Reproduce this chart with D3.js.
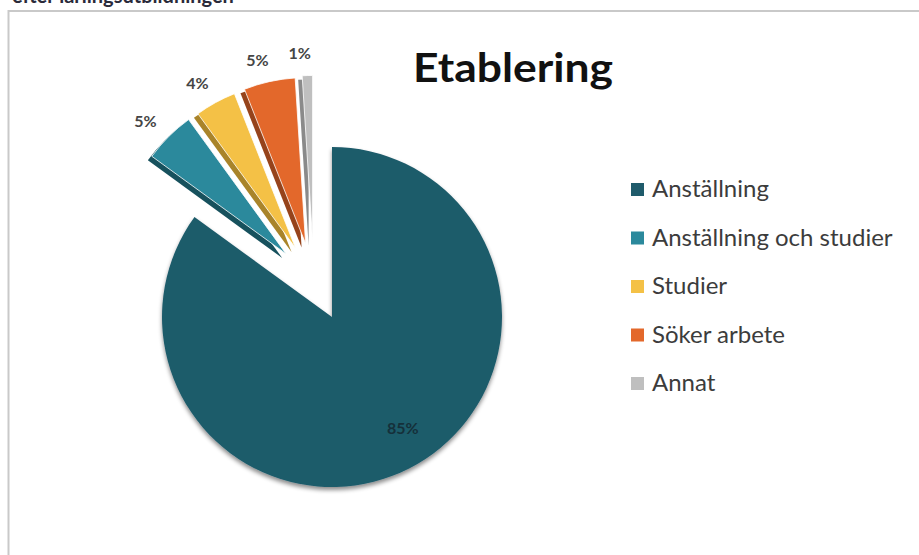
<!DOCTYPE html>
<html>
<head>
<meta charset="utf-8">
<script src="https://cdn.jsdelivr.net/npm/d3@7/dist/d3.min.js"></script>
<style>
  html, body { margin: 0; padding: 0; background: #ffffff; }
  svg { display: block; }
</style>
</head>
<body>
<svg id="chart" width="919" height="555"></svg>
<script>
// ---- data ----
const categories = ["Anställning", "Anställning och studier", "Studier", "Söker arbete", "Annat"];
const values = [85, 5, 4, 5, 1];
const valueLabels = ["85%", "5%", "4%", "5%", "1%"];
const colors = ["#1f5b6b", "#2b899c", "#f4c146", "#e3682b", "#bfbfbf"];
const sideColors = ["#123c47", "#17515d", "#a9842a", "#96431b", "#8a8a8a"];
const exploded = [false, true, true, true, true];
const title = "Etablering";
const caption = "efter lärlingsutbildningen";

// ---- layout ----
const svg = d3.select("#chart");
const W = 919, H = 555;
const cx = 332, cy = 317, R = 170, Rx = 166;
const explodeDist = 78;

// frame
svg.append("line").attr("x1", 8.5).attr("x2", 8.5).attr("y1", 10).attr("y2", H)
  .attr("stroke", "#c9c9c9").attr("stroke-width", 2);
svg.append("line").attr("x1", 8).attr("x2", W).attr("y1", 11).attr("y2", 11)
  .attr("stroke", "#c9c9c9").attr("stroke-width", 2);

// cut-off caption at the top (as in the reference)
svg.append("text").attr("x", 12).attr("y", 3)
  .attr("font-family", "Lato, 'Open Sans', sans-serif").attr("font-weight", "bold")
  .attr("font-size", 20).attr("fill", "#2a2a3a").text(caption);

const defs = svg.append("defs");
const f = defs.append("filter").attr("id", "shadow").attr("x", "-20%").attr("y", "-20%")
  .attr("width", "140%").attr("height", "140%");
f.append("feDropShadow").attr("dx", 0).attr("dy", 3).attr("stdDeviation", 2)
  .attr("flood-color", "#000").attr("flood-opacity", 0.45);

const pie = d3.pie().sort(null).value(d => d)
  .startAngle(0).endAngle(2 * Math.PI);
const arcs = pie(values);
const arcMain = d3.arc().innerRadius(0).outerRadius(R);
const arcExp = d3.arc().innerRadius(0).outerRadius(Rx);

// group bisector of exploded slices
const expArcs = arcs.filter((a, i) => exploded[i]);
const groupMid = (d3.min(expArcs, a => a.startAngle) + d3.max(expArcs, a => a.endAngle)) / 2;

function offsetFor(a, i) {
  if (!exploded[i]) return [0, 0];
  const mid = (a.startAngle + a.endAngle) / 2;
  const dir = (mid + groupMid) / 2;
  return [explodeDist * Math.sin(dir), -explodeDist * Math.cos(dir)];
}

const g = svg.append("g");

arcs.forEach((a, i) => {
  const [ox, oy] = offsetFor(a, i);
  const sg = g.append("g").attr("transform", `translate(${cx + ox},${cy + oy})`);
  const mid = (a.startAngle + a.endAngle) / 2;
  let lx, ly;
  if (exploded[i]) {
    sg.append("path").attr("d", arcExp(a)).attr("fill", sideColors[i])
      .attr("transform", "translate(-4,4)");
    sg.append("path").attr("d", arcExp(a)).attr("fill", colors[i])
      .attr("stroke", "#ffffff").attr("stroke-width", 0.8);
    const lr = Rx + 23;
    lx = lr * Math.sin(mid) - 7; ly = -lr * Math.cos(mid);
  } else {
    sg.append("path").attr("d", arcMain(a)).attr("fill", colors[i])
      .attr("filter", "url(#shadow)");
    const lr = R * 0.77;
    const la = mid - 0.1;
    lx = lr * Math.sin(la); ly = -lr * Math.cos(la);
  }
  sg.append("text")
    .attr("x", lx).attr("y", ly)
    .attr("text-anchor", "middle").attr("dominant-baseline", "central")
    .attr("font-family", "Lato, 'Open Sans', sans-serif")
    .attr("font-weight", "bold")
    .attr("font-size", 16)
    .attr("fill", exploded[i] ? "#454545" : "#15303a")
    .text(valueLabels[i]);
});

// title
svg.append("text").attr("x", 513).attr("y", 82)
  .attr("text-anchor", "middle")
  .attr("font-family", "Lato, 'Open Sans', sans-serif").attr("font-weight", "bold")
  .attr("font-size", 40).attr("textLength", 200).attr("lengthAdjust", "spacingAndGlyphs")
  .attr("fill", "#111111").text(title);

// legend
const lg = svg.append("g");
const legendX = 631, legendY0 = 197, legendStep = 48.5;
categories.forEach((c, i) => {
  const y = legendY0 + i * legendStep;
  lg.append("rect").attr("x", legendX).attr("y", y - 14).attr("width", 13).attr("height", 13)
    .attr("fill", colors[i]);
  lg.append("text").attr("x", legendX + 21).attr("y", y)
    .attr("font-family", "Lato, 'Open Sans', sans-serif").attr("font-size", 24)
    .attr("fill", "#3c3c3c").text(c);
});
</script>
</body>
</html>
